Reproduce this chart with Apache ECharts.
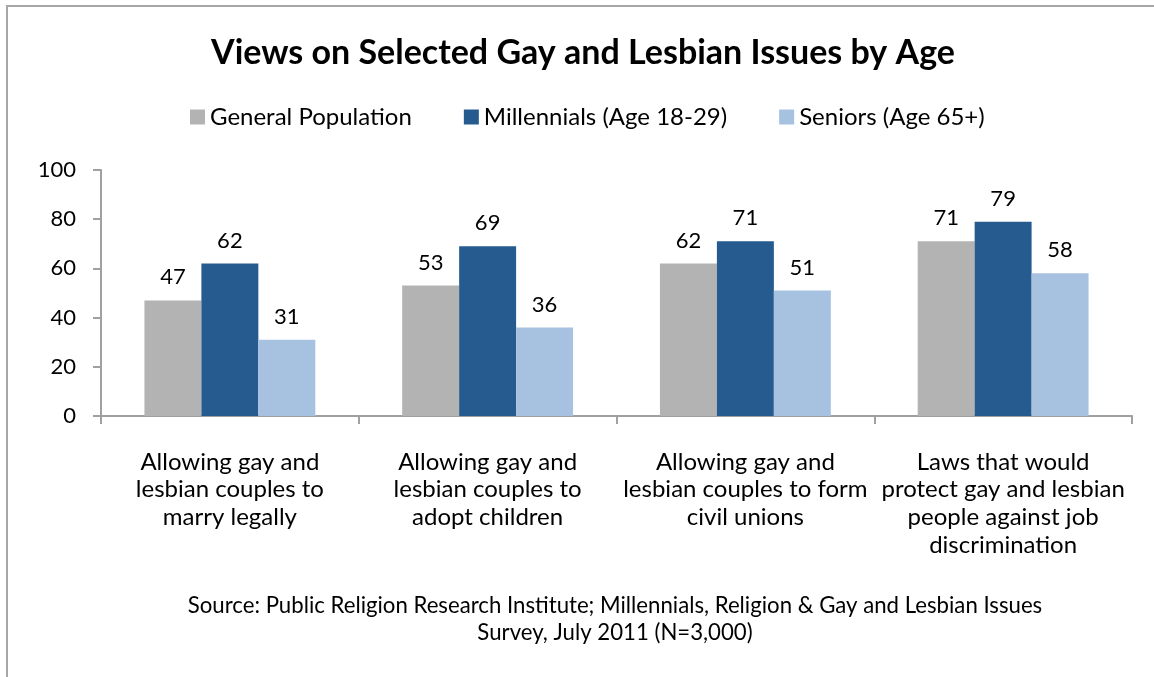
<!DOCTYPE html>
<html>
<head>
<meta charset="utf-8">
<title>Views on Selected Gay and Lesbian Issues by Age</title>
<script src="https://cdn.jsdelivr.net/npm/echarts@6/dist/echarts.min.js"></script>
<style>
  html, body { margin: 0; padding: 0; background: #ffffff; }
  #chart { width: 1154px; height: 677px; }
</style>
</head>
<body>
<div id="chart"></div>
<script>
// Issue categories (x axis)
const categories = [
  'Allowing gay and\nlesbian couples to\nmarry legally',
  'Allowing gay and\nlesbian couples to\nadopt children',
  'Allowing gay and\nlesbian couples to form\ncivil unions',
  'Laws that would\nprotect gay and lesbian\npeople against job\ndiscrimination'
];

// Percent in favor, by group
const seriesNames = ['General Population', 'Millennials (Age 18-29)', 'Seniors (Age 65+)'];
const generalPopulation = [47, 53, 62, 71];
const millennials = [62, 69, 71, 79];
const seniors = [31, 36, 51, 58];

// Y axis ticks
const yTicks = [0, 20, 40, 60, 80, 100];

const titleText = 'Views on Selected Gay and Lesbian Issues by Age';
const sourceLines = [
  'Source: Public Religion Research Institute; Millennials, Religion & Gay and Lesbian Issues',
  'Survey, July 2011 (N=3,000)'
];

const colors = ['#b3b3b3', '#255b8f', '#a7c2e1'];
const FONT = 'Lato';
const axisGray = '#a0a0a0';

const chart = echarts.init(document.getElementById('chart'), null, { renderer: 'canvas' });

function barSeries(name, data, color) {
  return {
    name: name,
    type: 'bar',
    data: data,
    barGap: '0%',
    barCategoryGap: '33.7%',
    itemStyle: { color: color },
    label: {
      show: true,
      position: 'top',
      distance: 12,
      color: '#000000',
      fontFamily: FONT,
      fontSize: 22
    }
  };
}

const option = {
  animation: false,
  backgroundColor: '#ffffff',
  textStyle: { fontFamily: FONT },
  graphic: [
    {
      type: 'rect',
      shape: { x: 7, y: 6, width: 1300, height: 800 },
      style: { fill: 'none', stroke: '#a6a6a6', lineWidth: 2 },
      silent: true
    },
    {
      type: 'text',
      x: 583, y: 53,
      style: {
        text: titleText,
        fill: '#000000',
        font: 'bold 34px ' + FONT,
        textAlign: 'center',
        textVerticalAlign: 'middle'
      }
    },
    {
      type: 'text',
      x: 615, y: 606,
      style: {
        text: sourceLines[0],
        fill: '#000000',
        font: '22.2px ' + FONT,
        textAlign: 'center',
        textVerticalAlign: 'middle'
      }
    },
    {
      type: 'text',
      x: 615, y: 633,
      style: {
        text: sourceLines[1],
        fill: '#000000',
        font: '22.2px ' + FONT,
        textAlign: 'center',
        textVerticalAlign: 'middle'
      }
    }
  ],
  legend: {
    top: 100,
    left: 185,
    itemWidth: 15,
    itemHeight: 15,
    itemGap: 52,
    icon: 'rect',
    textStyle: { fontFamily: FONT, fontSize: 24, color: '#000000' },
    data: seriesNames
  },
  grid: {
    left: 101,
    right: 22,
    top: 170,
    bottom: 261,
    containLabel: false
  },
  xAxis: {
    type: 'category',
    data: categories,
    axisLine: { show: true, lineStyle: { color: axisGray, width: 2 } },
    axisTick: { show: true, length: 8, alignWithLabel: false, lineStyle: { color: axisGray, width: 2 } },
    axisLabel: {
      interval: 0,
      margin: 32,
      color: '#000000',
      fontFamily: FONT,
      fontSize: 24,
      lineHeight: 27.7,
      align: 'center',
      verticalAlign: 'top'
    },
    splitLine: { show: false }
  },
  yAxis: {
    type: 'value',
    min: yTicks[0],
    max: yTicks[yTicks.length - 1],
    interval: 20,
    axisLine: { show: true, lineStyle: { color: axisGray, width: 2 } },
    axisTick: { show: true, length: 8, lineStyle: { color: axisGray, width: 2 } },
    axisLabel: {
      margin: 25,
      color: '#000000',
      fontFamily: FONT,
      fontSize: 22
    },
    splitLine: { show: false }
  },
  color: colors,
  series: [
    barSeries(seriesNames[0], generalPopulation, colors[0]),
    barSeries(seriesNames[1], millennials, colors[1]),
    barSeries(seriesNames[2], seniors, colors[2])
  ]
};

chart.setOption(option);
</script>
</body>
</html>
